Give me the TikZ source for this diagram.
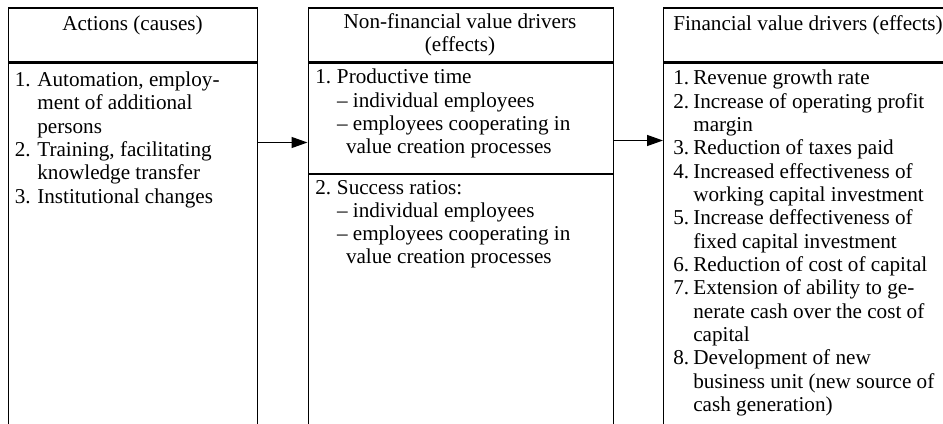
\documentclass[tikz,border=0pt]{standalone}
\usepackage{fontspec}
\setmainfont{Liberation Serif}
\usepackage{tikz}
\usetikzlibrary{calc,arrows.meta}

\begin{document}
\begin{tikzpicture}[x=0.6pt, y=-0.6pt,
    boxnode/.style={rectangle, draw=black, line width=0.8pt, inner sep=0pt, anchor=north west},
    txtnode/.style={inner sep=0pt, anchor=base west, font=\fontsize{12.7}{14}\selectfont},
    headnode/.style={inner sep=0pt, anchor=base, font=\fontsize{12.7}{14}\selectfont}]
            \useasboundingbox (0,0) rectangle (943,424);
            \clip (0,0) rectangle (943,424);

            \node[boxnode, minimum width=249*0.6pt, minimum height=54*0.6pt] (acthead) at (8,7.5) {};
            \node[boxnode, minimum width=249*0.6pt, minimum height=390*0.6pt] (actbody) at (acthead.south west) {};
            \node[boxnode, minimum width=305*0.6pt, minimum height=54*0.6pt] (nfhead) at (307.5,7.5) {};
            \node[boxnode, minimum width=305*0.6pt, minimum height=110*0.6pt] (nfprod) at (nfhead.south west) {};
            \node[boxnode, minimum width=305*0.6pt, minimum height=280*0.6pt] (nfsucc) at (nfprod.south west) {};
            \node[boxnode, minimum width=300*0.6pt, minimum height=54*0.6pt] (fhead) at (663,7.5) {};
            \node[boxnode, minimum width=300*0.6pt, minimum height=390*0.6pt] (fbody) at (fhead.south west) {};

            \node[headnode] (acttitle) at (132.5,31) {Actions (causes)};
            \node[headnode] (nftitle) at (460,28.3) {\begin{tabular}[t]{@{}c@{}}Non-financial value drivers\\(effects)\end{tabular}};
            \node[txtnode] (ftitle) at (673,31) {Financial value drivers (effects)};

            \node[txtnode] (actlist) at (14.5,86.5) {\begin{tabular}[t]{@{}p{13.5pt}@{}l@{}}
                1. & Automation, employ-\\
                   & ment of additional\\
                   & persons\\
                2. & Training, facilitating\\
                   & knowledge transfer\\
                3. & Institutional changes
            \end{tabular}};
            \node[txtnode] (prodlist) at (315,84) {\begin{tabular}[t]{@{}p{13pt}@{}l@{}}
                1. & Productive time\\
                   & -- individual employees\\
                   & -- employees cooperating in\\
                   & \hspace*{5.4pt}value creation processes
            \end{tabular}};
            \node[txtnode] (succlist) at (315,194) {\begin{tabular}[t]{@{}p{13pt}@{}l@{}}
                2. & Success ratios:\\
                   & -- individual employees\\
                   & -- employees cooperating in\\
                   & \hspace*{5.4pt}value creation processes
            \end{tabular}};
            \node[txtnode] (flist) at (673,85) {\begin{tabular}[t]{@{}p{12pt}@{}l@{}}
                1. & Revenue growth rate\\
                2. & Increase of operating profit\\
                   & margin\\
                3. & Reduction of taxes paid\\
                4. & Increased effectiveness of\\
                   & working capital investment\\
                5. & Increase deffectiveness of\\
                   & fixed capital investment\\
                6. & Reduction of cost of capital\\
                7. & Extension of ability to ge-\\
                   & nerate cash over the cost of\\
                   & capital\\
                8. & Development of new\\
                   & business unit (new source of\\
                   & cash generation)
            \end{tabular}};

            \tikzset{arr/.style={-{Triangle[length=9.6pt,width=6.6pt]}, line width=0.8pt}}
            \coordinate (arrowA) at (0,142.5);
            \coordinate (arrowB) at (0,140.5);

            \draw[arr] (actbody.east |- arrowA) -- (nfprod.west |- arrowA);
            \draw[arr] (nfprod.east |- arrowB) -- (fbody.west |- arrowB);

\end{tikzpicture}
\end{document}
